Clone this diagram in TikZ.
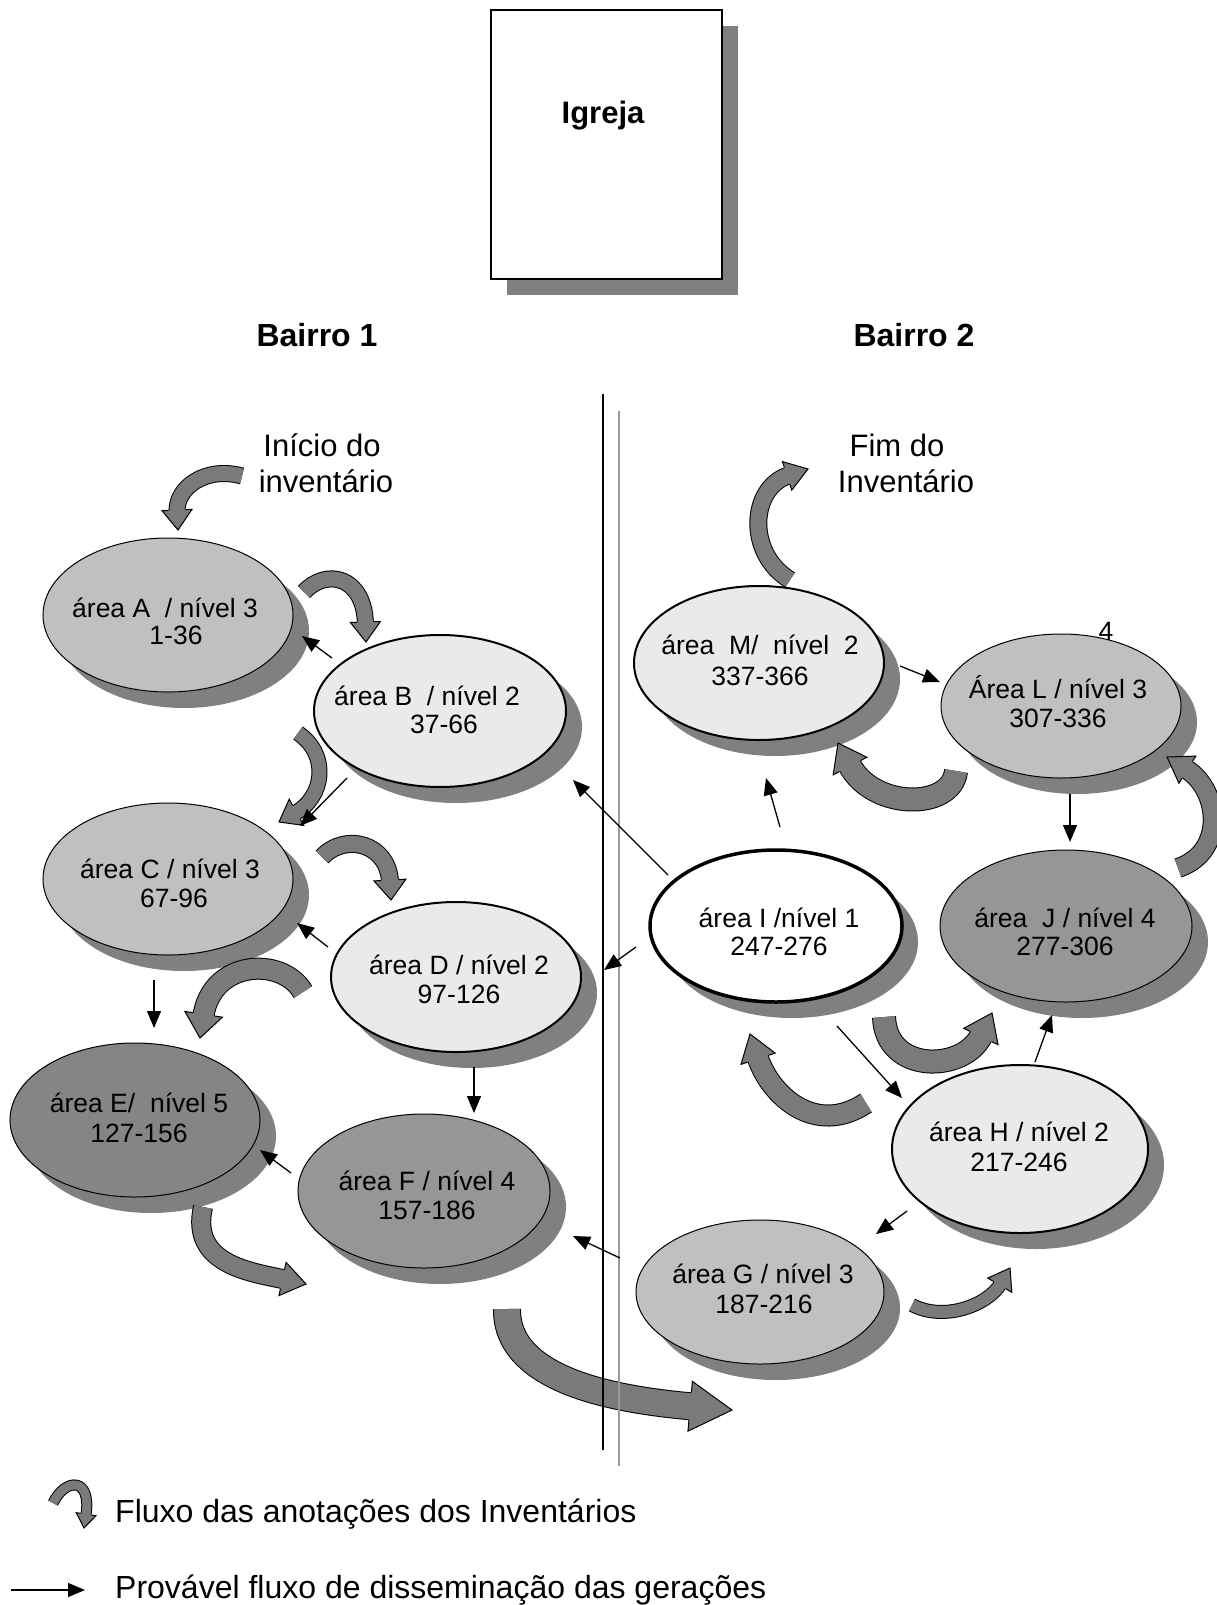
\documentclass[tikz,border=0pt]{standalone}
\usepackage{fontspec}
\setmainfont{Liberation Sans}
\usetikzlibrary{shapes.geometric,arrows.meta,shadows,calc}
\definecolor{flowgray}{HTML}{7A7A7A}
\definecolor{shgray}{HTML}{808080}
\definecolor{lightfill}{HTML}{EAEAEA}
\definecolor{midfill}{HTML}{C0C0C0}
\definecolor{darkfill}{HTML}{969696}
\definecolor{darkerfill}{HTML}{858585}
\definecolor{linegray}{HTML}{9A9A9A}
\tikzset{
  ell/.style={ellipse, draw=black, inner sep=0pt, outer sep=0pt,
    drop shadow={shadow xshift=16pt, shadow yshift=-16pt, opacity=1, fill=shgray}},
  etxt/.style={font=\fontsize{26.5}{30}\selectfont, inner sep=0pt, anchor=base},
  btxt/.style={font=\fontsize{32}{36}\selectfont\bfseries, inner sep=0pt, anchor=base},
  ltxt/.style={font=\fontsize{31}{36}\selectfont, inner sep=0pt, anchor=base},
  legtxt/.style={font=\fontsize{32}{36}\selectfont, inner sep=0pt, anchor=base west},
  conn/.style={line width=1.3pt, -{Triangle[length=17pt,width=14pt]}},
  flowband/.style={line width=1pt, draw=black, double=flowgray},
}
% #1 band width, #2 head half width, #3 head length, #4 start, #5 control 1, #6 control 2, #7 tip
\newcommand\flowarr[7]{%
  \draw[flowband, double distance=#1pt, shorten >={#3pt-1.5pt}] #4 .. controls #5 and #6 .. #7;
  \coordinate (fhb) at ($#7!#3pt!#6$);
  \coordinate (fh1) at ($(fhb)!#2pt!90:#7$);
  \coordinate (fh2) at ($(fhb)!#2pt!-90:#7$);
  \coordinate (fe1) at ($(fhb)!0.5*#1pt+1pt!90:#7$);
  \coordinate (fe2) at ($(fhb)!0.5*#1pt+1pt!-90:#7$);
  \fill[flowgray] (fh1) -- #7 -- (fh2) -- cycle;
  \draw[line width=1pt, line join=miter] (fe1) -- (fh1) -- #7 -- (fh2) -- (fe2);
}
\begin{document}
\begin{tikzpicture}[x=1pt, y=-1pt]
\fill[white] (0,0) rectangle (1217,1605);
\useasboundingbox (0,0) rectangle (1217,1605);

% church
\node[draw=black, line width=2pt, fill=white, inner sep=0pt, outer sep=0pt,
  minimum width=231pt, minimum height=269pt,
  drop shadow={shadow xshift=16pt, shadow yshift=-16pt, opacity=1, fill=shgray}] (igreja) at (606.5,144.5) {};
\node[btxt, font=\fontsize{31}{36}\selectfont\bfseries] (igtxt) at (603,124) {Igreja};

\node[btxt] (b1) at (317,346) {Bairro 1};
\node[btxt] (b2) at (914,346) {Bairro 2};

\node[ltxt] (ini1) at (322,456) {Início do};
\node[ltxt] (ini2) at (326,492) {inventário};
\node[ltxt] (fim1) at (897,456) {Fim do};
\node[ltxt] (fim2) at (906,492) {Inventário};

% ellipses
\node[ell, fill=midfill, line width=1pt, minimum width=250pt, minimum height=154pt] (A) at (168,615) {};
\node[ell, fill=lightfill, line width=2pt, minimum width=252pt, minimum height=152pt] (B) at (440,711) {};
\node[ell, fill=midfill, line width=1pt, minimum width=250pt, minimum height=152pt] (C) at (168,879) {};
\node[ell, fill=lightfill, line width=2pt, minimum width=250pt, minimum height=150pt] (D) at (456,977) {};
\node[ell, fill=darkerfill, line width=1pt, minimum width=250pt, minimum height=154pt] (E) at (135,1120) {};
\node[ell, fill=darkfill, line width=1pt, minimum width=252pt, minimum height=154pt] (F) at (424,1191) {};
\node[ell, fill=midfill, line width=1pt, minimum width=248pt, minimum height=144pt] (G) at (760,1292) {};
\node[ell, fill=lightfill, line width=2pt, minimum width=256pt, minimum height=168pt] (H) at (1020,1149) {};
\node[ell, fill=white, line width=3.5pt, minimum width=252pt, minimum height=152pt] (I) at (776,926) {};
\node[ell, fill=darkfill, line width=1pt, minimum width=252pt, minimum height=152pt] (J) at (1066,926) {};
\node[ell, fill=midfill, line width=1pt, minimum width=240pt, minimum height=144pt] (L) at (1061,706) {};
\node[ell, fill=lightfill, line width=2pt, minimum width=250pt, minimum height=154pt] (M) at (759,663) {};

% ellipse texts
\node[etxt] (A1) at (165,617) {área A\ \ / nível 3};
\node[etxt] (A2) at (176,644) {1-36};
\node[etxt] (B1) at (427,705) {área B\ \ / nível 2};
\node[etxt] (B2) at (444,733) {37-66};
\node[etxt] (C1) at (170,878) {área C / nível 3};
\node[etxt] (C2) at (174,907) {67-96};
\node[etxt] (D1) at (459,974) {área D / nível 2};
\node[etxt] (D2) at (459,1003) {97-126};
\node[etxt] (E1) at (139,1112) {área E/\ \ nível 5};
\node[etxt] (E2) at (139,1142) {127-156};
\node[etxt] (F1) at (427,1190) {área F / nível 4};
\node[etxt] (F2) at (427,1219) {157-186};
\node[etxt] (G1) at (763,1283) {área G / nível 3};
\node[etxt] (G2) at (764,1313) {187-216};
\node[etxt] (H1) at (1019,1141) {área H / nível 2};
\node[etxt] (H2) at (1019,1171) {217-246};
\node[etxt] (I1) at (779,927) {área I /nível 1};
\node[etxt] (I2) at (779,955) {247-276};
\node[etxt] (J1) at (1065,927) {área\ \ J / nível 4};
\node[etxt] (J2) at (1065,955) {277-306};
\node[etxt] (L1) at (1058,698) {Área L / nível 3};
\node[etxt] (L2) at (1058,727) {307-336};
\node[etxt] (M1) at (760,654) {área\ \ M/\ \ nível\ \ 2};
\node[etxt] (M2) at (760,685) {337-366};
\node[etxt] (four) at (1106,640) {4};

% curved flow arrows
\flowarr{15}{15}{20}{(242,476)}{(205,466)}{(176,488)}{(178,530)}
\flowarr{15}{15}{20}{(304,592)}{(326,568)}{(364,576)}{(366,642)}
\flowarr{14}{15}{20}{(298,733)}{(330,755)}{(324,797)}{(279,822)}
\flowarr{16}{16}{20}{(322,857)}{(346,832)}{(388,844)}{(391,900)}
\flowarr{20}{19}{24}{(303,992)}{(282,956)}{(212,960)}{(200,1038)}
\flowarr{18}{17}{24}{(203,1207)}{(190,1264)}{(250,1272)}{(306,1284)}
\flowarr{26}{25}{42}{(507,1309)}{(506,1382)}{(620,1400)}{(732,1410)}
\flowarr{12}{14}{20}{(912,1305)}{(944,1322)}{(988,1305)}{(1010,1268)}
\flowarr{20}{18}{26}{(866,1103)}{(815,1137)}{(770,1095)}{(750,1034)}
\flowarr{22}{19}{26}{(884,1017)}{(886,1074)}{(964,1072)}{(992,1013)}
\flowarr{22}{19}{26}{(956,771)}{(952,810)}{(873,810)}{(838,743)}
\flowarr{18}{16}{24}{(1178,868)}{(1226,852)}{(1220,790)}{(1167,757)}
\flowarr{16}{15}{22}{(790,580)}{(746,553)}{(750,488)}{(808,469)}

% dividing lines
\coordinate (bt) at (603,394);
\coordinate (bb) at (603,1450);
\coordinate (gt) at (619,411);
\coordinate (gb) at (619,1466);
\draw[line width=2pt, black] (bt) -- (bb);
\draw[line width=2pt, linegray] (gt) -- (gb);

% thin connectors
\coordinate (a1s) at ($(B.center)+(-108,-53)$); \coordinate (a1e) at ($(A.center)+(134,21)$);
\coordinate (a2s) at ($(B.center)+(-93,67)$);   \coordinate (a2e) at ($(C.center)+(132,-53)$);
\coordinate (a3s) at ($(D.center)+(-128,-30)$); \coordinate (a3e) at ($(C.center)+(129,44)$);
\coordinate (a4s) at ($(C.center)+(-14,101)$);  \coordinate (a4e) at ($(E.center)+(19,-92)$);
\coordinate (a5s) at ($(D.center)+(18,90)$);    \coordinate (a5e) at ($(F.center)+(50,-78)$);
\coordinate (a6s) at ($(F.center)+(-133,-18)$); \coordinate (a6e) at ($(E.center)+(125,30)$);
\coordinate (a7s) at ($(G.center)+(-140,-34)$); \coordinate (a7e) at ($(F.center)+(149,45)$);
\coordinate (a8s) at ($(I.center)+(-140,21)$);  \coordinate (a8e) at ($(I.center)+(-172,44)$);
\coordinate (a9s) at ($(I.center)+(-108,-51)$); \coordinate (a9e) at ($(B.center)+(133,69)$);
\coordinate (a10s) at ($(I.center)+(4,-99)$);   \coordinate (a10e) at ($(M.center)+(7,115)$);
\coordinate (a11s) at ($(M.center)+(141,3)$);   \coordinate (a11e) at ($(L.center)+(-121,-24)$);
\coordinate (a12s) at ($(L.center)+(9,88)$);    \coordinate (a12e) at ($(J.center)+(4,-84)$);
\coordinate (a13s) at ($(I.center)+(61,100)$);  \coordinate (a13e) at ($(H.center)+(-118,-51)$);
\coordinate (a14s) at ($(H.center)+(15,-87)$);  \coordinate (a14e) at ($(J.center)+(-14,89)$);
\coordinate (a15s) at ($(H.center)+(-113,62)$); \coordinate (a15e) at ($(G.center)+(116,-58)$);
\foreach \k in {1,...,15} { \draw[conn] (a\k s) -- (a\k e); }

% legend
\flowarr{9}{10}{14}{(53,1503)}{(65,1478)}{(92,1476)}{(84,1528)}
\node[legtxt] (leg1) at (115,1522) {Fluxo das anotações dos Inventários};
\coordinate (lg1) at (11,1590);
\coordinate (lg2) at (85,1590);
\draw[conn] (lg1) -- (lg2);
\node[legtxt] (leg2) at (115,1598) {Provável fluxo de disseminação das gerações};
\end{tikzpicture}
\end{document}
